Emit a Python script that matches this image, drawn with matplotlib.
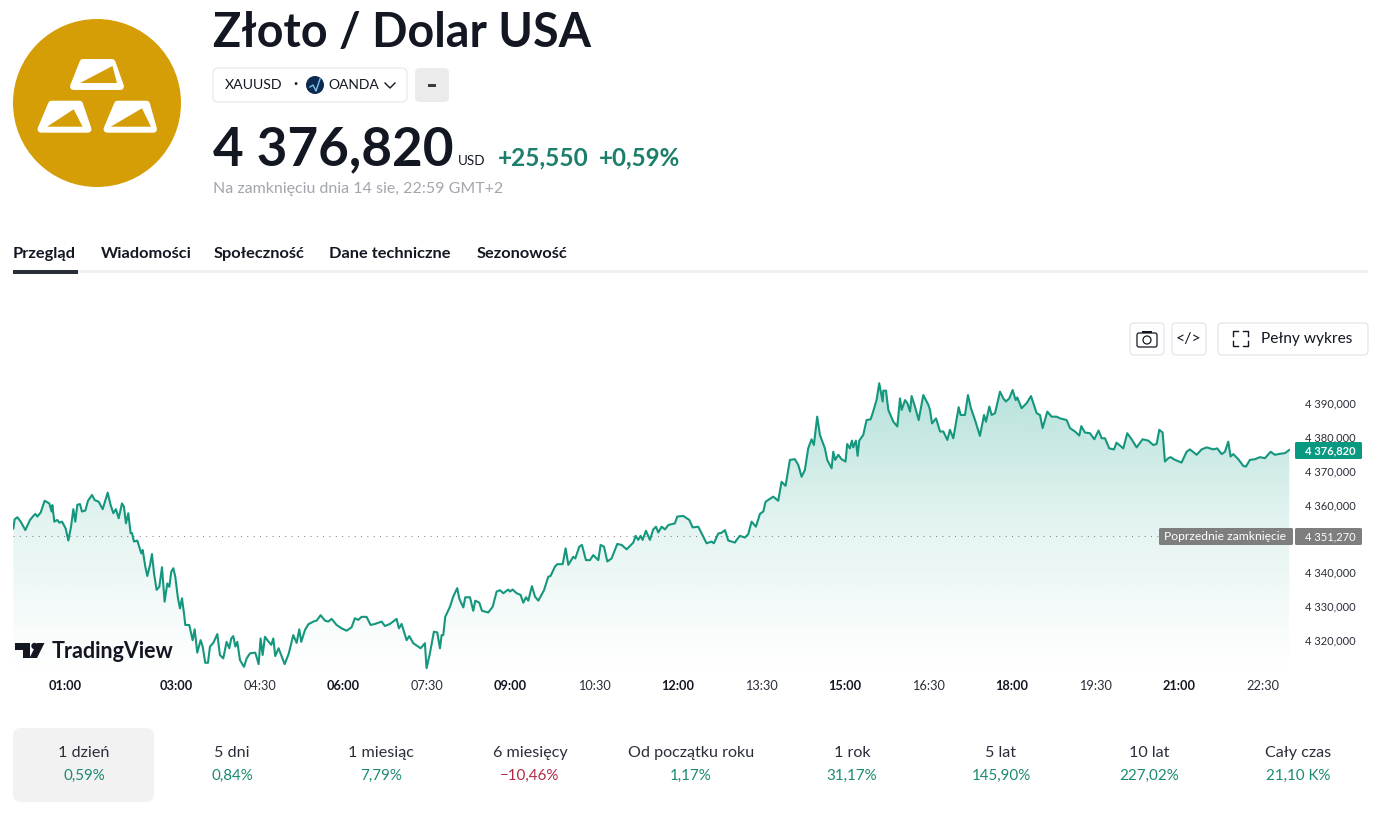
import numpy as np
import matplotlib
matplotlib.use("Agg")
import matplotlib.pyplot as plt
from matplotlib.patches import FancyBboxPatch, Circle, Polygon, Rectangle
from matplotlib.colors import LinearSegmentedColormap
from matplotlib.transforms import ScaledTranslation

plt.rcParams['font.family'] = ['Lato', 'Noto Sans', 'DejaVu Sans']

# ---------- data ----------
minutes = [4.4,5.8,8.7,12.3,17.3,22.3,25.9,28.1,30.2,33.8,38.1,43.1,45.6,46.4,48.5,51.7,53.9,56.8,60.7,63.6,66.5,69.0,71.1,73.3,76.2,78.3,81.9,84.8,89.1,92.0,96.3,100.6,106.0,109.2,112.1,114.9,117.8,121.4,123.5,125.7,128.2,130.7,132.2,134.3,137.9,142.2,143.7,146.5,148.7,151.6,153.7,155.9,158.7,161.6,164.5,167.3,170.2,172.4,174.5,176.7,178.8,181.7,183.9,186.0,188.2,189.6,193.9,197.5,199.7,202.5,206.1,208.3,211.1,214.0,216.2,219.8,224.1,226.9,230.5,234.1,237.0,239.1,241.3,243.5,245.6,248.5,252.8,255.7,259.3,265.0,268.6,270.7,272.9,275.4,279.4,282.2,284.4,286.5,290.1,296.6,300.9,305.9,309.5,312.4,314.5,318.5,322.1,327.5,331.1,335.4,340.0,343.6,347.2,352.6,358.0,363.4,368.7,372.3,375.9,379.5,384.9,389.2,393.9,401.1,404.6,410.0,417.2,419.7,422.6,428.0,430.9,435.2,440.5,443.1,447.7,449.5,453.1,457.4,461.0,463.9,465.7,467.5,469.6,474.7,478.2,482.5,484.7,
486.2,489.1,491.2,496.3,499.8,502.0,506.3,509.2,516.0,520.7,525.0,528.6,532.2,537.5,539.3,542.2,546.5,550.8,553.7,556.6,559.1,563.0,566.3,569.9,576.0,580.6,583.1,587.8,590.3,596.1,599.3,602.2,607.5,609.7,614.0,616.9,621.2,625.5,629.1,634.5,637.0,640.6,644.2,648.8,654.9,659.6,665.0,672.2,674.7,677.5,680.1,682.2,685.8,690.1,693.7,696.6,699.1,702.7,706.3,709.9,717.0,719.5,726.0,732.5,736.1,742.2,745.8,751.1,756.5,759.0,763.7,767.3,770.9,774.5,781.7,783.5,787.0,792.4,796.0,799.6,804.3,808.6,812.2,814.7,822.9,828.3,831.9,836.2,840.9,846.3,849.9,853.5,857.0,860.6,864.2,866.7,870.3,873.2,878.6,881.1,885.8,887.6,889.7,893.0,896.5,900.8,902.6,905.5,907.7,909.1,912.0,913.8,915.6,919.9,923.5,927.8,930.0,934.3,937.1,
940.8,941.5,944.4,946.9,952.3,956.6,959.5,961.3,964.9,967.4,970.3,972.0,975.6,979.6,984.6,990.0,991.8,994.0,998.3,1002.6,1006.2,1010.5,1013.3,1016.9,1022.7,1024.8,1029.5,1032.7,1035.9,1040.3,1045.6,1050.0,1052.1,1055.7,1058.2,1061.8,1067.2,1070.8,1073.6,1077.2,1080.8,1084.1,1085.8,1090.5,1095.9,1100.6,1106.7,1110.3,1113.1,1118.2,1122.8,1128.2,1131.8,1139.0,1142.6,1148.0,1152.6,1154.8,1158.7,1164.1,1168.8,1173.4,1176.7,1180.3,1184.9,1190.0,1192.8,1200.0,1204.3,1209.0,1214.4,1220.8,1227.0,1232.3,1235.9,1238.8,1242.4,1244.9,1248.5,1251.0,1255.7,1262.8,1268.2,1271.8,1279.0,1284.4,1289.8,1297.0,1301.2,1306.0,1309.5,1313.1,1315.6,1318.5,1323.9,1329.3,1332.1,1336.4,1341.8,1347.2,1352.6,1358.7,1363.4,1368.8,1374.1,1378.8]

prices = [4353.6,4356.3,4356.9,4355.6,4353.1,4356.1,4357.3,4357.9,4357.1,4358.3,4361.8,4361.0,4358.6,4360.5,4355.6,4356.1,4355.3,4355.6,4353.6,4350.0,4354.1,4359.3,4355.6,4360.6,4360.8,4358.6,4358.9,4361.8,4363.5,4362.0,4361.5,4359.3,4364.2,4360.5,4358.1,4359.3,4356.6,4361.0,4360.0,4355.1,4358.1,4352.2,4352.2,4349.7,4350.0,4346.2,4347.2,4342.3,4339.5,4342.8,4346.0,4340.3,4335.4,4336.3,4342.1,4331.9,4337.3,4336.3,4340.8,4341.8,4339.3,4332.9,4329.9,4332.9,4328.4,4325.0,4325.0,4320.5,4323.7,4316.8,4320.5,4318.6,4313.8,4313.8,4318.6,4319.7,4322.3,4316.1,4315.1,4320.0,4318.1,4321.0,4321.7,4318.6,4320.0,4314.6,4312.6,4315.1,4316.6,4316.8,4313.4,4321.0,4316.1,4321.5,4320.0,4319.1,4321.0,4315.8,4318.1,4313.4,4316.4,4322.0,4319.7,4323.7,4320.0,4323.5,4325.2,4326.0,4326.3,4327.9,4326.3,4326.0,4326.8,4325.0,4324.0,4323.3,4324.3,4327.0,4326.5,4327.4,4327.4,4325.0,4325.3,4326.0,4324.7,4325.3,4326.8,4324.0,4325.3,4320.5,4321.7,4319.6,4318.6,4318.1,4319.6,4312.2,4316.6,4323.0,4322.8,4318.1,4322.0,4322.0,4327.4,4330.4,4333.4,4335.9,4332.9,
4331.9,4330.2,4333.2,4333.2,4329.2,4332.2,4331.6,4329.2,4328.7,4330.4,4334.9,4335.3,4334.4,4335.5,4334.9,4335.5,4334.4,4333.9,4331.6,4333.2,4332.2,4336.5,4333.4,4332.2,4335.3,4339.3,4339.5,4342.3,4343.0,4343.0,4347.7,4342.8,4345.2,4344.7,4348.2,4348.7,4344.2,4344.2,4345.7,4344.2,4348.7,4348.2,4343.8,4344.7,4349.0,4348.7,4347.4,4349.4,4351.4,4350.2,4351.4,4350.2,4352.9,4350.2,4353.3,4354.1,4352.4,4354.1,4353.3,4354.6,4355.1,4357.1,4357.3,4356.1,4353.9,4354.1,4352.1,4349.2,4349.7,4349.2,4352.1,4352.3,4353.1,4350.0,4349.4,4350.2,4351.4,4350.9,4351.9,4355.6,4354.1,4357.9,4358.6,4361.5,4363.0,4361.8,4367.4,4366.2,4373.9,4374.1,4372.4,4368.9,4370.9,4377.3,4380.0,4378.3,4386.7,4381.3,4377.3,4373.9,4371.4,4376.3,4373.9,4375.4,4374.1,4373.4,4378.6,4377.3,4379.6,4377.6,4379.6,4375.1,4379.6,4381.3,4385.7,4385.9,4387.7,4391.7,4396.6,
4391.2,4394.4,4394.4,4388.7,4385.2,4383.8,4392.1,4388.7,4391.6,4390.7,4388.2,4392.8,4389.7,4385.7,4393.1,4390.2,4388.7,4384.7,4386.2,4382.3,4382.3,4379.8,4382.8,4380.3,4389.5,4387.2,4387.2,4393.1,4389.2,4385.7,4381.0,4387.2,4385.2,4389.7,4387.2,4387.7,4394.1,4392.1,4391.2,4392.1,4394.6,4391.6,4392.4,4389.2,4390.7,4392.8,4387.7,4387.2,4383.3,4388.2,4386.7,4386.7,4386.2,4385.7,4383.3,4382.3,4381.1,4383.9,4382.0,4381.8,4380.0,4382.6,4380.3,4380.3,4377.3,4377.0,4379.0,4377.3,4381.8,4380.0,4377.6,4380.0,4379.6,4378.3,4378.6,4382.8,4382.0,4373.4,4374.4,4374.7,4373.9,4373.1,4376.3,4377.0,4375.4,4377.0,4377.6,4377.0,4377.3,4375.6,4376.3,4379.3,4374.9,4375.6,4374.1,4372.1,4371.9,4373.9,4374.1,4374.7,4374.4,4376.3,4375.4,4375.7,4375.9,4376.82]

prev_close = 4351.27
last_price = 4376.82
y_ticks = [4320, 4330, 4340, 4360, 4370, 4380, 4390]
y_tick_labels = ['4 320,000', '4 330,000', '4 340,000', '4 360,000', '4 370,000', '4 380,000', '4 390,000']
x_ticks = [60, 180, 270, 360, 450, 540, 630, 720, 810, 900, 990, 1080, 1170, 1260, 1350]
x_tick_labels = ['01:00', '03:00', '04:30', '06:00', '07:30', '09:00', '10:30', '12:00', '13:30', '15:00', '16:30', '18:00', '19:30', '21:00', '22:30']
x_bold = ['01:00', '03:00', '06:00', '09:00', '12:00', '15:00', '18:00', '21:00']
periods = ['1 dzień', '5 dni', '1 miesiąc', '6 miesięcy', 'Od początku roku', '1 rok', '5 lat', '10 lat', 'Cały czas']
returns = ['0,59%', '0,84%', '7,79%', '−10,46%', '1,17%', '31,17%', '145,90%', '227,02%', '21,10 K%']
tabs = ['Przegląd', 'Wiadomości', 'Społeczność', 'Dane techniczne', 'Sezonowość']

W, H = 1375, 813
GREEN = '#14977d'
TXT = '#131722'
fig = plt.figure(figsize=(W / 100, H / 100), dpi=100, facecolor='white')

# ---------- chart axes ----------
def box(l, t, r, b):
    return [l / W, 1 - b / H, (r - l) / W, (b - t) / H]

ax = fig.add_axes(box(13, 365, 1290, 672))
ax.set_xlim(4.0, 1379.6)
ax.set_ylim(4311.07, 4402.0)
for s in ax.spines.values():
    s.set_visible(False)
ax.patch.set_alpha(0)

cmap = LinearSegmentedColormap.from_list('g', [(0.03, 0.60, 0.51, 0.0), (0.03, 0.60, 0.51, 0.11), (0.03, 0.60, 0.51, 0.30)])
grad = np.linspace(1, 0, 256).reshape(-1, 1)
im = ax.imshow(grad, aspect='auto', cmap=cmap, vmin=0, vmax=1, extent=[4.0, 1379.6, 4311.07, 4398.0], zorder=1)
ax.set_xlim(4.0, 1379.6)
ax.set_ylim(4311.07, 4402.0)
poly = ax.fill_between(minutes, prices, 4311.07, color='none', lw=0)
path = poly.get_paths()[0]
im.set_clip_path(path, transform=ax.transData)

ax.axhline(prev_close, color='#6f7a80', lw=0.7, ls=(0, (1, 5.5)), zorder=2)
ax.plot(minutes, prices, color=GREEN, lw=1.5, zorder=3, solid_joinstyle='round')

ax.set_yticks(y_ticks)
ax.set_yticklabels(y_tick_labels, fontsize=8.05, color='#2a2e39', ha='left')
ax.yaxis.tick_right()
ax.tick_params(axis='y', length=0, pad=11)
shift = ScaledTranslation(0, 2.2 / 100, fig.dpi_scale_trans)
for lab in ax.get_yticklabels():
    lab.set_transform(lab.get_transform() + shift)
ax.set_xticks(x_ticks)
ax.set_xticklabels(x_tick_labels, fontsize=9.2, color='#2a2e39')
for lab in ax.get_xticklabels():
    if lab.get_text() in x_bold:
        lab.set_fontweight('bold')
    lab.set_color(TXT if lab.get_text() in x_bold else '#2a2e39')
ax.tick_params(axis='x', length=0, pad=6)

# ---------- page furniture in pixel space ----------
ui = fig.add_axes([0, 0, 1, 1], zorder=5)
ui.set_xlim(0, W)
ui.set_ylim(H, 0)
ui.axis('off')
ui.patch.set_alpha(0)

def rbox(l, t, r, b, rad=5, fc='white', ec='none', lw=0.8, z=2):
    ui.add_patch(FancyBboxPatch((l + rad, t + rad), r - l - 2 * rad, b - t - 2 * rad,
                                boxstyle=f'round,pad={rad},rounding_size={rad}',
                                fc=fc, ec=ec, lw=lw, zorder=z))

def t(x, y, s, size, color=TXT, weight='normal', ha='left', va='center', z=6):
    return ui.text(x, y, s, fontsize=size, color=color, fontweight=weight, ha=ha, va=va, zorder=z)

# logo
GOLD = '#d69e06'
ui.add_patch(Circle((97, 103), 84, fc=GOLD, ec='none'))
for outer, tri in [
    ([(83, 62.5), (112, 62.5), (120.5, 86.5), (73.5, 86.5)], [(80, 83), (112.5, 66), (117, 83)]),
    ([(51.5, 104.2), (79.5, 104.2), (88, 129.2), (41, 129.2)], [(47, 126.7), (73.7, 109.3), (82.6, 126.7)]),
    ([(117.5, 104.2), (146.5, 104.2), (153.5, 129.2), (107, 129.2)], [(110.7, 126.7), (142, 108.3), (151, 126.7)]),
]:
    ui.add_patch(Polygon(outer, closed=True, fc='white', ec='white', lw=5, joinstyle='round', zorder=3))
    ui.add_patch(Polygon(tri, closed=True, fc=GOLD, ec='none', zorder=4))

t(213, 33, 'Złoto / Dolar USA', 33.6, weight='bold')
rbox(213, 68, 407, 102, rad=5, ec='#e6e6e6')
t(225, 85, 'XAUUSD', 10.2)
t(293, 84, '·', 11, weight='bold')
ui.add_patch(Circle((315, 85), 9, fc='#0d2a52', ec='none', zorder=4))
ui.plot([310, 313, 316, 320], [87, 85, 91, 79], color='#7fc4e8', lw=1, zorder=5)
t(328, 85, 'OANDA', 10.0)
ui.plot([385, 390, 395], [83, 88, 83], color=TXT, lw=1.0, zorder=5)
rbox(415, 68, 449, 102, rad=5, fc='#ebebeb')
ui.add_patch(Rectangle((428, 84), 8, 3, fc='#3a3a3a', ec='none', zorder=5))

t(213, 150, '4 376,820', 38.2, weight='bold')
t(458, 161, 'USD', 9.6)
t(498, 158, '+25,550', 17.6, color='#1b7f6b', weight='bold')
t(599, 158, '+0,59%', 17.4, color='#1b7f6b', weight='bold')
t(213, 189, 'Na zamknięciu dnia 14 sie, 22:59 GMT+2', 11.5, color='#a3a6ad')

tab_x = [13, 101, 214, 329, 477]
for x, s in zip(tab_x, tabs):
    t(x, 254, s, 11.8, weight='bold')
ui.add_patch(Rectangle((13, 270), 1355, 3, fc='#f0f0f0', ec='none', zorder=2))
ui.add_patch(Rectangle((13, 270), 65, 3.5, fc='#2a2e39', ec='none', zorder=3))

# toolbar
rbox(1130, 323, 1164, 355, rad=4, ec='#e0e3eb')
rbox(1172, 323, 1206, 355, rad=4, ec='#e0e3eb')
rbox(1218, 323, 1368, 355, rad=4, ec='#e0e3eb')
rbox(1137, 333, 1157, 347, rad=2, fc='white', ec=TXT, lw=0.9, z=4)
ui.add_patch(Rectangle((1142, 331), 10, 2, fc=TXT, ec='none', zorder=4))
ui.add_patch(Circle((1147, 340), 4, fc='white', ec=TXT, lw=0.9, zorder=5))
t(1189, 338.5, '</>', 11.5, ha='center')
for cx, cy, sx, sy in [(1233, 331, 1, 1), (1248, 331, -1, 1), (1233, 346, 1, -1), (1248, 346, -1, -1)]:
    ui.plot([cx + 5 * sx, cx, cx], [cy, cy, cy + 5 * sy], color=TXT, lw=1.0, zorder=5)
t(1261, 339, 'Pełny wykres', 11.2)

# price tags
rbox(1295, 442, 1362, 459, rad=1.5, fc='#089981', z=3)
t(1305, 450.5, '4 376,820', 8.05, color='white', weight='bold')
rbox(1159, 528, 1293, 545, rad=1.5, fc='#7e7e7e', z=3)
rbox(1295, 528, 1362, 545, rad=1.5, fc='#7e7e7e', z=3)
t(1164, 536.5, 'Poprzednie zamknięcie', 8.7, color='white')
t(1305, 536.5, '4 351,270', 8.05, color='white')

# TradingView mark
ui.add_patch(Polygon([(15, 643), (30, 643), (30, 658), (23, 658), (23, 649.5), (15, 649.5)], closed=True, fc='#131722', ec='none', zorder=5))
ui.add_patch(Circle((34.5, 646), 3.2, fc='#131722', ec='none', zorder=5))
ui.add_patch(Polygon([(37, 643), (44.5, 643), (37, 658), (29.5, 658)], closed=True, fc='#131722', ec='none', zorder=5))
t(52, 651, 'TradingView', 15.5, weight='bold')

# period strip
rbox(13, 728, 154, 802, rad=8, fc='#f2f2f2')
centers = [84, 232, 381, 530, 691, 852, 1001, 1149, 1298]
for c, p, r in zip(centers, periods, returns):
    t(c, 752.5, p, 11.6, color='#2a2e39', ha='center')
    col = '#b22a46' if r.startswith('−') else '#1b8a73'
    t(c, 776, r, 10.9, color=col, ha='center')

fig.savefig('out.png', dpi=100, facecolor='white')
